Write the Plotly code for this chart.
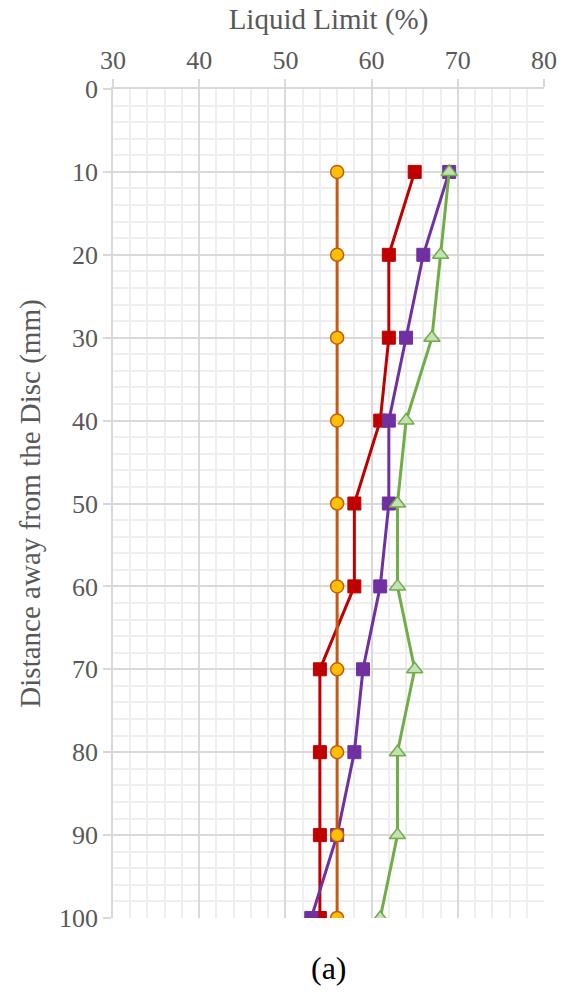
import plotly.graph_objects as go

# Distance from the disc (mm) and measured liquid limit (%) for each profile
distance = [10, 20, 30, 40, 50, 60, 70, 80, 90, 100]
ll_orange = [56, 56, 56, 56, 56, 56, 56, 56, 56, 56]
ll_red = [65, 62, 62, 61, 58, 58, 54, 54, 54, 54]
ll_purple = [69, 66, 64, 62, 62, 61, 59, 58, 56, 53]
ll_green = [69, 68, 67, 64, 63, 63, 65, 63, 63, 61]

x_ticks = [30, 40, 50, 60, 70, 80]
y_ticks = [0, 10, 20, 30, 40, 50, 60, 70, 80, 90, 100]

FONT = "'Times New Roman', 'Liberation Serif', 'DejaVu Serif', serif"
GRID_MAJOR = "#D9D9D9"
GRID_MINOR = "#EEEEEE"

fig = go.Figure()

fig.add_trace(go.Scatter(
    x=ll_red, y=distance, mode="lines+markers",
    line=dict(color="#C00000", width=3),
    marker=dict(symbol="square", size=13, color="#C00000",
                line=dict(color="#C00000", width=1)),
    showlegend=False))

fig.add_trace(go.Scatter(
    x=ll_purple, y=distance, mode="lines+markers",
    line=dict(color="#7030A0", width=3),
    marker=dict(symbol="square", size=13, color="#7030A0",
                line=dict(color="#7030A0", width=1)),
    showlegend=False))

fig.add_trace(go.Scatter(
    x=ll_green, y=distance, mode="lines+markers",
    line=dict(color="#70AD47", width=3),
    marker=dict(symbol="triangle-up", size=14, color="#C5E0B4",
                line=dict(color="#70AD47", width=1.5)),
    showlegend=False))

fig.add_trace(go.Scatter(
    x=ll_orange, y=distance, mode="lines+markers",
    line=dict(color="#C55A11", width=3),
    marker=dict(symbol="circle", size=13, color="#FFC000",
                line=dict(color="#C55A11", width=1.5)),
    showlegend=False))

fig.update_layout(
    width=561, height=992,
    margin=dict(l=113, r=17, t=89, b=74, autoexpand=False),
    paper_bgcolor="white", plot_bgcolor="white",
    font=dict(family=FONT, color="#595959"),
    annotations=[dict(
        text="(a)", x=0.5, y=-0.06, xref="paper", yref="paper",
        showarrow=False, xanchor="center", yanchor="middle",
        font=dict(family=FONT, size=32, color="black"))],
)

fig.update_xaxes(
    side="top", range=[30, 80], tickvals=x_ticks, automargin=False,
    tickfont=dict(family=FONT, size=26, color="#595959"),
    title=dict(text="Liquid Limit (%)", standoff=8,
               font=dict(family=FONT, size=29, color="#595959")),
    showline=True, linecolor=GRID_MAJOR, linewidth=1.5,
    ticks="outside", ticklen=8, tickcolor=GRID_MAJOR, tickwidth=1.5,
    showgrid=True, gridcolor=GRID_MAJOR, gridwidth=1.5,
    minor=dict(dtick=2, showgrid=True, gridcolor=GRID_MINOR, gridwidth=1.5),
    zeroline=False,
)

fig.update_yaxes(
    range=[100, 0], tickvals=y_ticks, automargin=False,
    tickfont=dict(family=FONT, size=26, color="#595959"),
    title=dict(text="Distance away from the Disc (mm)", standoff=10,
               font=dict(family=FONT, size=29, color="#595959")),
    showline=True, linecolor=GRID_MAJOR, linewidth=1.5,
    ticks="outside", ticklen=8, tickcolor=GRID_MAJOR, tickwidth=1.5,
    showgrid=True, gridcolor=GRID_MAJOR, gridwidth=1.5,
    minor=dict(dtick=2, showgrid=True, gridcolor=GRID_MINOR, gridwidth=1.5),
    zeroline=False,
)

fig.write_html("out.html")
